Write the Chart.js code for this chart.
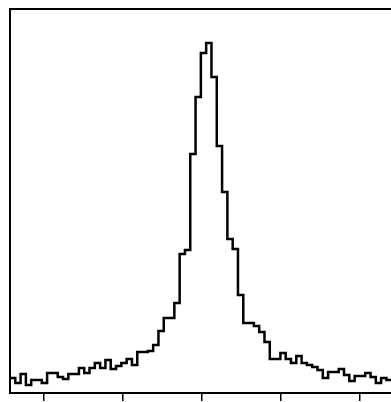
<!DOCTYPE html>
<html>
<head>
<meta charset="utf-8">
<script src="https://cdn.jsdelivr.net/npm/chart.js@4.4.1/dist/chart.umd.min.js"></script>
<style>
  html, body { margin: 0; padding: 0; background: #fff; overflow: hidden; }
  canvas { display: block; }
</style>
</head>
<body>
<canvas id="hist" width="391" height="402"></canvas>
<script>
// Histogram bins (left edges start at binStart, equal width)
const binStart = -2.43;
const binWidth = 0.0671;
const counts = [
    15, 10, 19, 8, 13, 13, 10, 20, 20, 16,
    14, 19, 19, 25, 20, 25, 30, 25, 33, 24,
    27, 30, 34, 28, 41, 41, 42, 48, 62, 75,
    75, 90, 139, 143, 239, 296, 340, 350, 316, 247,
    201, 154, 144, 98, 70, 70, 67, 61, 51, 34,
    34, 40, 34, 30, 37, 30, 28, 26, 23, 15,
    21, 21, 24, 18, 12, 17, 17, 20, 16, 10,
    15, 13, 13
];
const xTicks = [-2, -1, 0, 1, 2];

// Build step points: each bin's count held from its left edge to the next edge
const points = counts.map((c, i) => ({ x: binStart + i * binWidth, y: c }));
points.push({ x: binStart + counts.length * binWidth, y: counts[counts.length - 1] });

// Top frame line
const frame = {
    id: 'frame',
    afterDraw(chart) {
        const { ctx, chartArea } = chart;
        ctx.save();
        ctx.strokeStyle = '#000';
        ctx.lineWidth = 2;
        ctx.beginPath();
        ctx.moveTo(chartArea.left - 1, chartArea.top);
        ctx.lineTo(chartArea.right + 2, chartArea.top);
        ctx.stroke();
        ctx.restore();
    }
};

const ctx = document.getElementById('hist').getContext('2d');
new Chart(ctx, {
    type: 'line',
    data: {
        datasets: [{
            data: points,
            stepped: true,
            borderColor: '#000',
            borderWidth: 2.5,
            borderJoinStyle: 'miter',
            pointRadius: 0,
            fill: false
        }]
    },
    options: {
        responsive: false,
        animation: false,
        layout: { padding: { left: 10, top: 9, right: 0, bottom: 1 } },
        plugins: { legend: { display: false }, tooltip: { enabled: false } },
        scales: {
            x: {
                type: 'linear',
                min: binStart,
                max: 2.392,
                afterBuildTicks: (scale) => { scale.ticks = xTicks.map(v => ({ value: v })); },
                ticks: { display: false },
                grid: { drawOnChartArea: false, drawTicks: true, tickLength: 8, color: '#000', lineWidth: 1.5 },
                border: { display: true, color: '#000', width: 2 }
            },
            y: {
                min: 0,
                max: 384,
                ticks: { display: false },
                grid: { display: false, drawTicks: false },
                border: { display: true, color: '#000', width: 2 }
            }
        }
    },
    plugins: [frame]
});
</script>
</body>
</html>
